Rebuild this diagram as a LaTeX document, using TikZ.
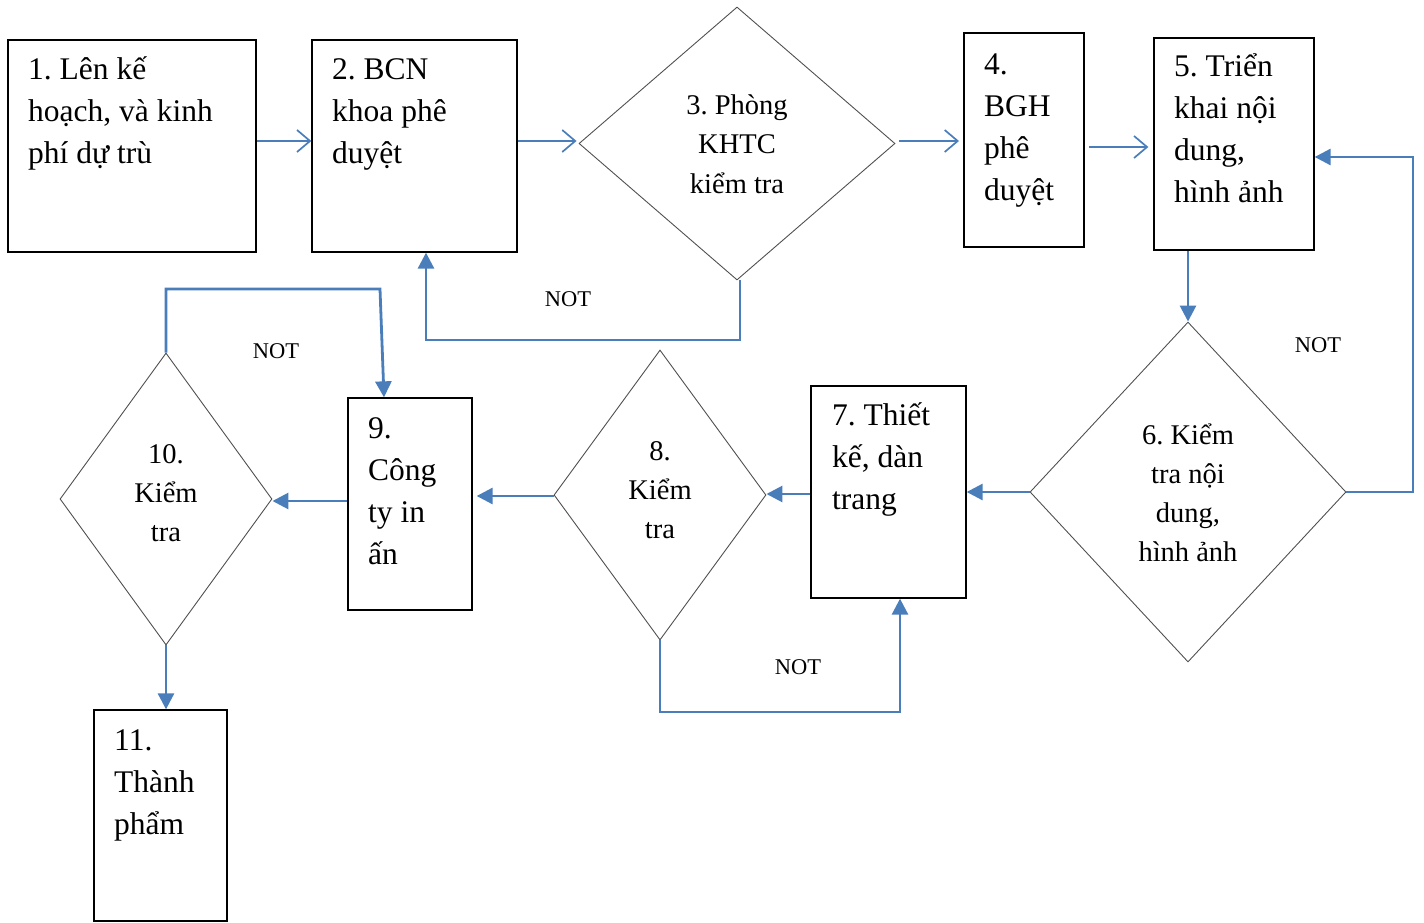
\documentclass[tikz,border=0pt]{standalone}
\usepackage{fontspec}
\setmainfont{Liberation Serif}
\usetikzlibrary{shapes.geometric,arrows.meta}
\frenchspacing
\definecolor{lineblue}{RGB}{74,126,187}
\definecolor{dgray}{RGB}{80,80,80}
\newcommand\myleft[1]{\begin{tabular}[t]{@{}l@{}}#1\end{tabular}}
\newcommand\mycent[1]{\begin{tabular}[t]{@{}c@{}}#1\end{tabular}}
\tikzset{
  box/.style={draw=black, line width=1.3pt, rectangle, inner sep=0pt},
  dia/.style={draw=dgray, line width=0.9pt, diamond, inner sep=0pt},
  btxt/.style={anchor=base west, inner sep=0pt, font=\fontsize{31.5}{42}\selectfont},
  dtxt/.style={anchor=base, inner sep=0pt, font=\fontsize{28.5}{39}\selectfont},
  nottxt/.style={inner sep=0pt, font=\fontsize{22.5}{27}\selectfont},
  thinarr/.style={draw=lineblue, line width=1.7pt, -{Straight Barb[length=13pt,width=22pt,line width=1.7pt]}},
  thickarr/.style={draw=lineblue, line width=2.8pt, -{Triangle[length=16pt,width=16pt]}}
}
\begin{document}
\begin{tikzpicture}[x=1pt,y=-1pt]
\useasboundingbox (0,0) rectangle (1424,923);
% boxes
\node[box, minimum width=248, minimum height=212] (b1) at (132,146) {};
\node[box, minimum width=205, minimum height=212] (b2) at (414.5,146) {};
\node[box, line width=2pt, minimum width=120, minimum height=214] (b4) at (1024,140) {};
\node[box, minimum width=160, minimum height=212] (b5) at (1234,144) {};
\node[box, minimum width=155, minimum height=212] (b7) at (888.5,492) {};
\node[box, minimum width=124, minimum height=212] (b9) at (410,504) {};
\node[box, minimum width=133, minimum height=211] (b11) at (160.5,815.5) {};
% diamonds
\node[dia, minimum width=316, minimum height=273] (d3) at (737,143.5) {};
\node[dia, minimum width=316, minimum height=340] (d6) at (1188,492) {};
\node[dia, minimum width=212, minimum height=290] (d8) at (660,495) {};
\node[dia, minimum width=212, minimum height=292] (d10) at (166,499) {};
% box texts
\node[btxt] (t1) at (28,80) {\myleft{1. Lên kế\\hoạch, và kinh\\phí dự trù}};
\node[btxt] (t2) at (332,80) {\myleft{2. BCN\\khoa phê\\duyệt}};
\node[btxt] (t4) at (984,75) {\myleft{4.\\BGH\\phê\\duyệt}};
\node[btxt] (t5) at (1174,77) {\myleft{5. Triển\\khai nội\\dung,\\hình ảnh}};
\node[btxt] (t7) at (832,425) {\myleft{7. Thiết\\kế, dàn\\trang}};
\node[btxt] (t9) at (368,438) {\myleft{9.\\Công\\ty in\\ấn}};
\node[btxt] (t11) at (114,750) {\myleft{11.\\Thành\\phẩm}};
% diamond texts
\node[dtxt] (t3) at (737,115) {\mycent{3. Phòng\\KHTC\\kiểm tra}};
\node[dtxt] (t6) at (1188,444) {\mycent{6. Kiểm\\tra nội\\dung,\\hình ảnh}};
\node[dtxt] (t8) at (660,460) {\mycent{8.\\Kiểm\\tra}};
\node[dtxt] (t10) at (166,463) {\mycent{10.\\Kiểm\\tra}};
% NOT labels
\node[nottxt] (n1) at (568,299) {NOT};
\node[nottxt] (n2) at (276,351) {NOT};
\node[nottxt] (n3) at (798,667) {NOT};
\node[nottxt] (n4) at (1318,345) {NOT};
% top row arrows
\draw[thinarr] (b1.east |- 0,141) -- (b2.west |- 0,141);
\draw[thinarr] (b2.east |- 0,141) -- ([xshift=-2pt]d3.west |- 0,141);
\draw[thinarr] ([xshift=4pt]d3.east |- 0,141) -- ([xshift=-4pt]b4.west |- 0,141);
\draw[thinarr] ([xshift=4pt]b4.east |- 0,147) -- ([xshift=-5pt]b5.west |- 0,147);
% flow arrows
\draw[thickarr] (d6.north |- b5.south) -- (d6.north);
\draw[thickarr] (d6.west) -- (b7.east |- d6.west);
\draw[thickarr] (b7.west |- 0,494) -- (d8.east |- 0,494);
\draw[thickarr] (d8.west |- 0,496) -- ([xshift=4pt]b9.east |- 0,496);
\draw[thickarr] (b9.west |- 0,501) -- (d10.east |- 0,501);
\draw[thickarr] (d10.south) -- (b11.north -| d10.south);
% NOT loops
\coordinate (r6) at (1413,157);
\draw[thickarr] (d6.east) -| (r6) -- (r6 -| b5.east);
\coordinate (c3) at (426,340);
\draw[thickarr] ([xshift=3pt]d3.south) |- (c3) -- (c3 |- b2.south);
\coordinate (c8) at (900,712);
\draw[thickarr] (d8.south) |- (c8) -- (c8 |- b7.south);
\coordinate (c10) at (380,289);
\draw[thickarr] (d10.north) |- (c10) -- ([xshift=-26pt]b9.north);
\end{tikzpicture}
\end{document}
